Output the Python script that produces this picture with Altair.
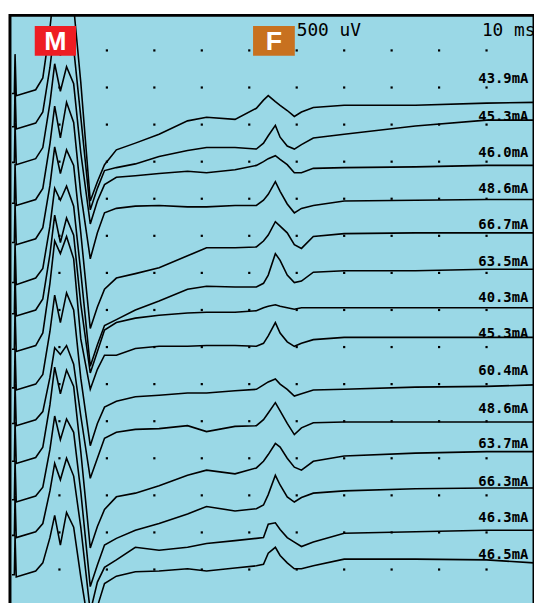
import altair as alt
import pandas as pd

# Time base (ms) shared by all sweeps
time_ms = [0, 0.5, 0.65, 0.9, 5, 6.5, 8, 9, 10.2, 11.5, 13, 14.5, 16.5, 18, 19.5, 22, 26, 31,
           37, 41, 47, 51.5, 53, 54, 55.5, 56.5, 58, 59.5, 61, 63.5, 70, 85, 100, 110]

# Displayed sweep amplitudes (mV, stacked display level), one list per stimulus
sweep1 = [6.92, 6.92, 7.45, 6.89, 6.97, 7.13, 7.80, 8.39, 7.97, 8.35, 8.09, 7.07, 5.47, 5.73, 5.96, 6.16, 6.25, 6.37,
          6.55, 6.60, 6.57, 6.72, 6.83, 6.89, 6.81, 6.76, 6.69, 6.61, 6.67, 6.73, 6.76, 6.76, 6.79, 6.80]
sweep2 = [6.47, 6.47, 7.00, 6.44, 6.52, 6.67, 7.27, 7.80, 7.43, 7.76, 7.53, 6.60, 5.35, 5.64, 5.88, 5.92, 5.97, 6.07,
          6.15, 6.19, 6.19, 6.17, 6.25, 6.35, 6.49, 6.33, 6.21, 6.17, 6.23, 6.32, 6.37, 6.48, 6.56, 6.56]
sweep3 = [5.99, 5.99, 6.52, 5.96, 6.04, 6.19, 6.79, 7.32, 6.95, 7.28, 7.05, 6.12, 5.16, 5.47, 5.69, 5.79, 5.81, 5.84,
          5.87, 5.85, 5.89, 5.95, 6.00, 6.04, 6.08, 6.03, 5.96, 5.85, 5.85, 5.91, 5.92, 5.93, 5.95, 5.95]
sweep4 = [5.44, 5.44, 5.97, 5.41, 5.49, 5.64, 6.24, 6.75, 6.32, 6.80, 6.53, 5.57, 4.69, 5.04, 5.31, 5.37, 5.40, 5.41,
          5.39, 5.39, 5.41, 5.41, 5.48, 5.56, 5.73, 5.60, 5.43, 5.31, 5.37, 5.41, 5.47, 5.48, 5.49, 5.49]
sweep5 = [4.91, 4.91, 5.44, 4.88, 4.96, 5.11, 5.68, 6.20, 5.84, 6.16, 5.95, 5.04, 3.75, 4.04, 4.28, 4.43, 4.49, 4.57,
          4.73, 4.84, 4.84, 4.85, 4.93, 5.01, 5.19, 5.13, 5.04, 4.88, 4.83, 4.99, 5.03, 5.04, 5.04, 5.04]
sweep6 = [4.37, 4.37, 4.90, 4.34, 4.43, 4.56, 5.13, 5.64, 5.48, 5.67, 5.40, 4.51, 3.24, 3.53, 3.79, 3.87, 4.00, 4.12,
          4.28, 4.32, 4.31, 4.31, 4.36, 4.47, 4.76, 4.67, 4.47, 4.37, 4.39, 4.51, 4.53, 4.53, 4.55, 4.55]
sweep7 = [3.95, 3.95, 4.48, 3.92, 4.00, 4.15, 4.75, 5.28, 4.91, 5.24, 5.01, 4.08, 3.15, 3.44, 3.73, 3.83, 3.89, 3.93,
          3.96, 3.97, 3.97, 3.99, 4.03, 4.05, 4.07, 4.05, 4.03, 4.01, 4.03, 4.03, 4.03, 4.03, 4.03, 4.03]
sweep8 = [3.47, 3.47, 4.00, 3.44, 3.52, 3.69, 4.36, 4.93, 4.76, 4.99, 4.69, 3.61, 2.93, 3.20, 3.39, 3.39, 3.48, 3.51,
          3.51, 3.52, 3.52, 3.51, 3.55, 3.65, 3.83, 3.69, 3.57, 3.51, 3.55, 3.60, 3.63, 3.63, 3.63, 3.63]
sweep9 = [2.95, 2.95, 3.48, 2.92, 3.00, 3.13, 3.71, 4.20, 3.83, 4.23, 4.00, 3.08, 2.17, 2.47, 2.69, 2.77, 2.83, 2.85,
          2.88, 2.88, 2.91, 2.93, 2.99, 3.03, 3.07, 3.00, 2.93, 2.84, 2.87, 2.92, 2.93, 2.96, 2.97, 2.99]
sweep10 = [2.47, 2.47, 3.00, 2.44, 2.52, 2.63, 3.09, 3.49, 3.40, 3.52, 3.27, 2.57, 1.73, 2.00, 2.27, 2.35, 2.39, 2.40,
           2.44, 2.36, 2.43, 2.44, 2.52, 2.61, 2.75, 2.64, 2.47, 2.32, 2.41, 2.48, 2.49, 2.49, 2.49, 2.49]
sweep11 = [1.96, 1.96, 2.49, 1.93, 2.01, 2.15, 2.72, 3.23, 2.87, 3.19, 2.97, 2.09, 0.79, 1.08, 1.31, 1.48, 1.53, 1.63,
           1.77, 1.84, 1.79, 1.87, 1.96, 2.05, 2.20, 2.15, 2.00, 1.88, 1.84, 1.96, 2.03, 2.07, 2.09, 2.09]
sweep12 = [1.44, 1.44, 1.97, 1.41, 1.49, 1.61, 2.12, 2.57, 2.25, 2.53, 2.35, 1.55, 0.27, 0.56, 0.83, 0.92, 1.03, 1.12,
           1.25, 1.35, 1.29, 1.32, 1.37, 1.51, 1.77, 1.64, 1.48, 1.41, 1.47, 1.53, 1.56, 1.59, 1.60, 1.60]
sweep13 = [0.96, 0.96, 1.49, 0.93, 1.01, 1.12, 1.56, 1.93, 1.71, 2.00, 1.76, 1.07, -0.07, 0.33, 0.53, 0.63, 0.80, 0.76,
           0.80, 0.85, 0.89, 0.92, 0.93, 1.11, 1.13, 1.04, 0.93, 0.87, 0.81, 0.87, 0.99, 1.01, 1.03, 1.03]
sweep14 = [0.43, 0.43, 0.96, 0.40, 0.48, 0.59, 0.93, 1.23, 0.83, 1.27, 1.07, 0.40, -0.40, 0.00, 0.31, 0.41, 0.47, 0.48,
           0.51, 0.48, 0.52, 0.55, 0.57, 0.72, 0.80, 0.69, 0.59, 0.51, 0.51, 0.55, 0.64, 0.64, 0.63, 0.59]

sweeps = [sweep1, sweep2, sweep3, sweep4, sweep5, sweep6, sweep7,
          sweep8, sweep9, sweep10, sweep11, sweep12, sweep13, sweep14]

# Stimulus intensity labels and their display level (mV)
stim_labels = ["43.9mA", "45.3mA", "46.0mA", "48.6mA", "66.7mA", "63.5mA", "40.3mA",
               "45.3mA", "60.4mA", "48.6mA", "63.7mA", "66.3mA", "46.3mA", "46.5mA"]
label_level = [7.11, 6.60, 6.12, 5.63, 5.15, 4.65, 4.16, 3.67, 3.17, 2.67, 2.19, 1.68, 1.19, 0.69]

# Screen grid: 10 ms per division, 0.5 mV per division
grid_cols_ms = [10, 20, 30, 40, 50, 60, 70, 80, 90, 100]
grid_rows_mv = [0.5, 1.0, 1.5, 2.0, 2.5, 3.0, 3.5, 4.0, 4.5, 5.0, 5.5, 6.0, 6.5, 7.0, 7.5]

rows = []
for i, vals in enumerate(sweeps):
    for t, v in zip(time_ms, vals):
        rows.append({"sweep": i + 1, "t": t, "mv": v})
df = pd.DataFrame(rows)

dots = pd.DataFrame([{"t": c, "mv": r} for c in grid_cols_ms for r in grid_rows_mv])
labels_df = pd.DataFrame({"label": stim_labels, "mv": label_level, "t": [108.8] * len(stim_labels)})

xs = alt.Scale(domain=[-0.42, 110], nice=False, zero=False)
ys = alt.Scale(domain=[-0.027, 7.973], nice=False, zero=False)
X = lambda f: alt.X(f, type="quantitative", scale=xs, axis=None)
Y = lambda f: alt.Y(f, type="quantitative", scale=ys, axis=None)

dot_layer = alt.Chart(dots).mark_square(size=5, color="black", opacity=1).encode(
    x=X("t"), y=Y("mv"))

line_layer = alt.Chart(df).mark_line(color="black", strokeWidth=1.6, clip=True).encode(
    x=X("t"), y=Y("mv"), detail="sweep:N")

label_layer = alt.Chart(labels_df).mark_text(
    align="right", baseline="middle", font="DejaVu Sans Mono", fontSize=14,
    fontWeight="bold", color="black").encode(x=X("t"), y=Y("mv"), text="label:N")

header = pd.DataFrame({"txt": ["500 uV", "10 ms"], "t": [60.0, 110.3], "mv": [7.76, 7.76]})
head_left = alt.Chart(header.iloc[[0]]).mark_text(
    align="left", baseline="middle", font="DejaVu Sans Mono", fontSize=18, color="black"
).encode(x=X("t"), y=Y("mv"), text="txt:N")
head_right = alt.Chart(header.iloc[[1]]).mark_text(
    align="right", baseline="middle", font="DejaVu Sans Mono", fontSize=18, color="black"
).encode(x=X("t"), y=Y("mv"), text="txt:N")

badges = pd.DataFrame({"name": ["M", "F"], "t0": [4.8, 50.8], "t1": [13.5, 59.6],
                       "tc": [9.15, 55.2], "y0": [7.43, 7.43], "y1": [7.83, 7.83], "yc": [7.63, 7.63],
                       "col": ["#EE1D23", "#C8711F"]})
badge_rect = alt.Chart(badges).mark_rect().encode(
    x=X("t0"), x2="t1", y=Y("y0"), y2="y1",
    color=alt.Color("col:N", scale=None))
badge_text = alt.Chart(badges).mark_text(
    align="center", baseline="middle", font="Liberation Sans", fontSize=27,
    fontWeight="bold", color="white", dy=1).encode(x=X("tc"), y=Y("yc"), text="name:N")

chart = alt.layer(dot_layer, line_layer, label_layer, head_left, head_right, badge_rect, badge_text).properties(
    width=530, height=600,
    autosize=alt.AutoSizeParams(type="none"),
    padding={"left": 2, "top": 4, "right": 0, "bottom": 0},
    background="white",
).configure_view(fill="#9AD8E6", stroke="black", strokeWidth=3)

chart.save("out.html", embed_options={"renderer": "svg", "actions": False})
